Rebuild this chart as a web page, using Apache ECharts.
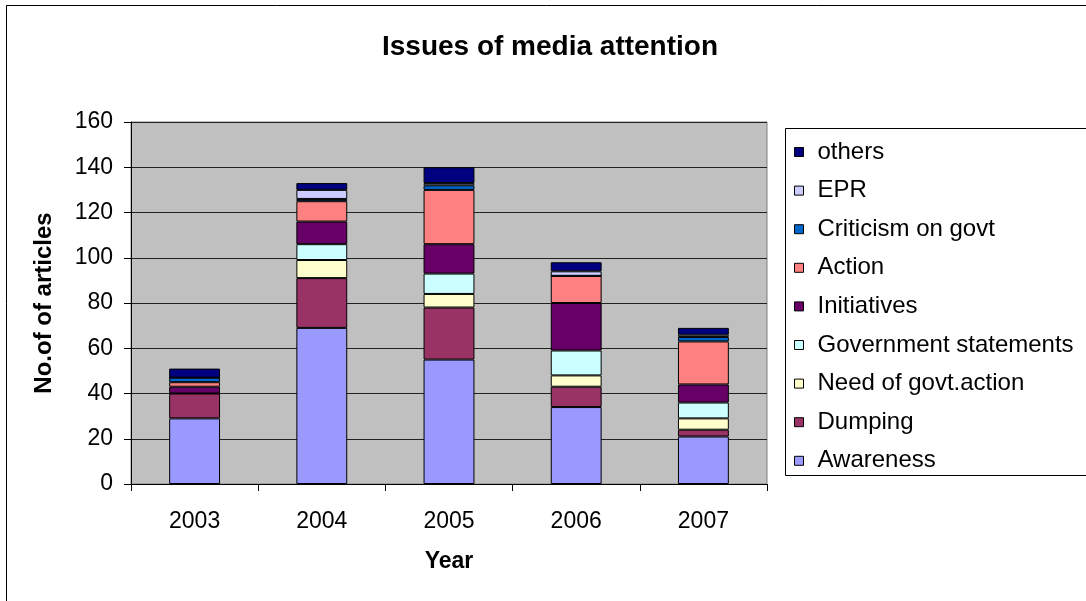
<!DOCTYPE html>
<html>
<head>
<meta charset="utf-8">
<script src="https://cdn.jsdelivr.net/npm/echarts@6/dist/echarts.min.js"></script>
<style>html,body{margin:0;padding:0;background:#fff}#c{width:1086px;height:601px}</style>
</head>
<body>
<div id="c"></div>
<script>
const years = ['2003', '2004', '2005', '2006', '2007'];
const awareness   = [29, 69, 55, 34, 21];
const dumping     = [11, 22, 23, 9, 3];
const needGovt    = [0, 8, 6, 5, 5];
const govStatem   = [0, 7, 9, 11, 7];
const initiatives = [3, 10, 13, 21, 8];
const action      = [2, 9, 24, 12, 19];
const criticism   = [2, 1, 2, 0, 2];
const epr         = [0, 4, 1, 2, 1];
const others      = [4, 3, 7, 4, 3];
const yTicks = [0, 20, 40, 60, 80, 100, 120, 140, 160];

const seriesDefs = [
  ['Awareness', awareness, '#9999FF'],
  ['Dumping', dumping, '#993366'],
  ['Need of govt.action', needGovt, '#FFFFCC'],
  ['Government statements', govStatem, '#CCFFFF'],
  ['Initiatives', initiatives, '#660066'],
  ['Action', action, '#FF8080'],
  ['Criticism on govt', criticism, '#0066CC'],
  ['EPR', epr, '#CCCCFF'],
  ['others', others, '#000080']
];

const chart = echarts.init(document.getElementById('c'), null, {renderer: 'canvas'});
const font = 'Liberation Sans, Arial, sans-serif';
chart.setOption({
  backgroundColor: '#fff',
  animation: false,
  graphic: [
    {type: 'rect', shape: {x: 6.5, y: 5.5, width: 1100, height: 620}, style: {fill: 'none', stroke: '#000', lineWidth: 1}, z: -1},
    {type: 'rect', shape: {x: 785.5, y: 128.5, width: 320, height: 347}, style: {fill: '#fff', stroke: '#000', lineWidth: 1}, z: 0},
    {type: 'text', x: 550, y: 47, style: {text: 'Issues of media attention', font: 'bold 28px ' + font, fill: '#000', textAlign: 'center', textVerticalAlign: 'middle'}}
  ],
  grid: {left: 131, right: 319, top: 122, bottom: 117, show: true, backgroundColor: '#C0C0C0', borderColor: '#808080', borderWidth: 1, containLabel: false},
  legend: {
    orient: 'vertical', left: 794, top: 140, z: 5, padding: 0,
    data: seriesDefs.map(d => d[0]).reverse(),
    itemWidth: 9, itemHeight: 9, itemGap: 14.6,
    icon: 'rect',
    itemStyle: {borderColor: '#000', borderWidth: 1},
    textStyle: {fontFamily: font, fontSize: 24, color: '#000', lineHeight: 24, padding: [0, 0, 0, 9]}
  },
  xAxis: {
    type: 'category', data: years,
    axisLine: {lineStyle: {color: '#000'}},
    axisTick: {show: true, length: 7, inside: false, lineStyle: {color: '#000'}},
    axisLabel: {fontFamily: font, fontSize: 23, color: '#000', margin: 26},
    name: 'Year', nameLocation: 'middle', nameGap: 66,
    nameTextStyle: {fontFamily: font, fontSize: 23, fontWeight: 'bold', color: '#000'}
  },
  yAxis: {
    type: 'value', min: yTicks[0], max: yTicks[yTicks.length - 1], interval: 20,
    axisLine: {show: true, lineStyle: {color: '#000'}},
    axisTick: {show: true, length: 7, lineStyle: {color: '#000'}},
    axisLabel: {fontFamily: font, fontSize: 23, color: '#000', margin: 18},
    splitLine: {show: true, lineStyle: {color: '#222', width: 1}},
    name: 'No.of of articles', nameLocation: 'middle', nameGap: 75,
    nameTextStyle: {fontFamily: font, fontSize: 24, fontWeight: 'bold', color: '#000'}
  },
  series: seriesDefs.map(([name, vals, color]) => ({
    name, type: 'bar', stack: 'total', data: vals, barWidth: '40%',
    itemStyle: {color, borderColor: '#000', borderWidth: 1}
  }))
});
</script>
</body>
</html>
